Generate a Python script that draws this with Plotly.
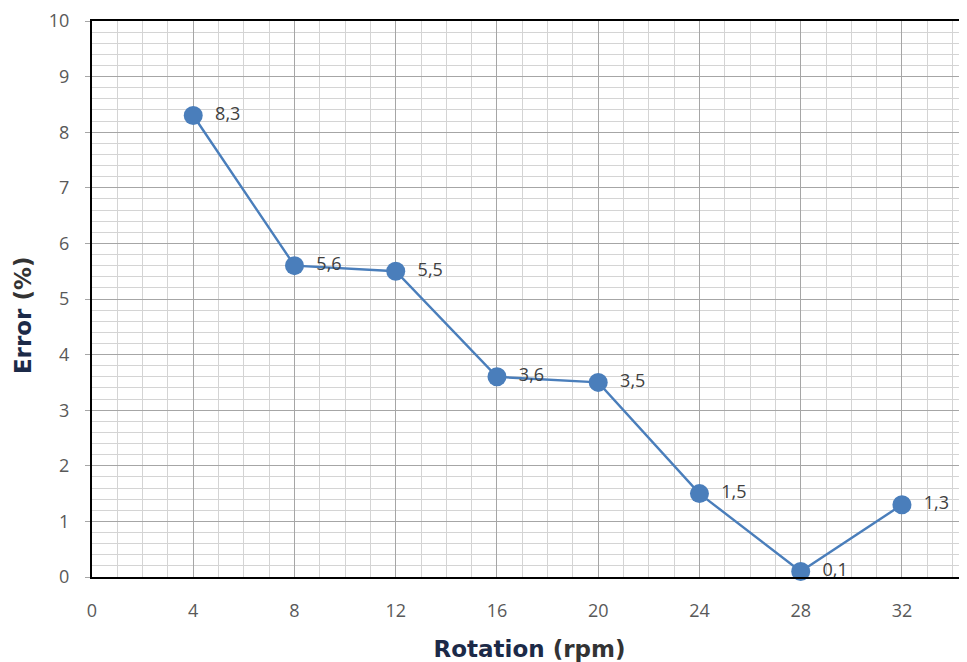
import plotly.graph_objects as go

rotation_rpm = [4, 8, 12, 16, 20, 24, 28, 32]
error_pct = [8.3, 5.6, 5.5, 3.6, 3.5, 1.5, 0.1, 1.3]
x_ticks = [0, 4, 8, 12, 16, 20, 24, 28, 32]
y_ticks = list(range(0, 11))

labels = [f"{v:.1f}".replace(".", ",") for v in error_pct]

fig = go.Figure()
fig.add_trace(go.Scatter(
    x=rotation_rpm, y=error_pct,
    mode="lines+markers+text",
    line=dict(color="#4A7EBB", width=2.4),
    marker=dict(color="#4A7EBB", size=19, line=dict(width=0)),
    text=["\u2002" + t for t in labels],
    textposition="middle right",
    textfont=dict(family="Open Sans", size=18, color="#404040"),
    cliponaxis=False,
    showlegend=False,
))

fig.update_layout(
    width=959, height=654,
    margin=dict(l=84, r=0, t=13, b=85),
    paper_bgcolor="white", plot_bgcolor="white",
    font=dict(family="Open Sans", size=18, color="#595959"),
    xaxis=dict(
        range=[0, 34.57],
        tickvals=x_ticks,
        ticktext=[str(t) for t in x_ticks],
        showline=True, linecolor="black", linewidth=2, mirror=True,
        showgrid=True, gridcolor="#a6a6a6", gridwidth=1.3,
        minor=dict(dtick=1, tick0=0, showgrid=True, gridcolor="#d4d4d4", gridwidth=1),
        zeroline=False,
        ticks="", ticklabelstandoff=16,
        tickfont=dict(size=18, color="#595959"),
        title=dict(
            text="<b><span style='color:#1c2a48'>Rotation</span> <span style='color:#333333'>(rpm)</span></b>",
            font=dict(family="DejaVu Sans", size=23),
            standoff=20,
        ),
    ),
    yaxis=dict(
        range=[0, 10],
        tickvals=y_ticks,
        showline=True, linecolor="black", linewidth=2,
        showgrid=True, gridcolor="#a6a6a6", gridwidth=1.3,
        minor=dict(dtick=0.2, tick0=0, showgrid=True, gridcolor="#d4d4d4", gridwidth=1),
        zeroline=False,
        ticks="outside", ticklen=5, tickcolor="#a6a6a6",
        ticklabelstandoff=12,
        tickfont=dict(size=18, color="#595959"),
    ),
    annotations=[dict(
        text="<b><span style='color:#1c2a48'>Error</span> <span style='color:#333333'>(%)</span></b>",
        font=dict(family="DejaVu Sans", size=23),
        xref="paper", yref="paper", x=0, y=0.471,
        xanchor="center", yanchor="middle", xshift=-69,
        textangle=-90, showarrow=False,
    )],
)

fig.write_html("out.html")
